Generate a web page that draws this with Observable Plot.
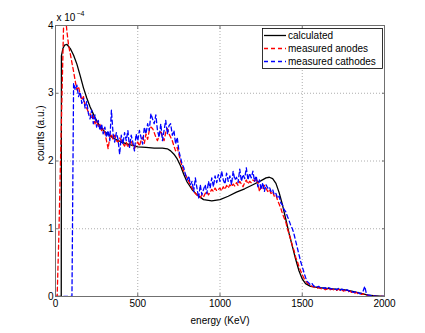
<!DOCTYPE html>
<html>
<head>
<meta charset="utf-8">
<script src="https://cdn.jsdelivr.net/npm/d3@7"></script>
<script src="https://cdn.jsdelivr.net/npm/@observablehq/plot@0.6"></script>
<style>
  html, body { margin: 0; padding: 0; background: #fff; }
</style>
</head>
<body>
<div id="chart"></div>
<script>
// ---- data (counts in units of 1e-4) ----
const seriesNames = ["calculated", "measured anodes", "measured cathodes"];
const seriesColors = ["#000000", "#ff0000", "#0000ff"];

const calcEnergy = [0, 35, 36, 45, 55, 70, 90, 110, 130, 150, 170, 190, 210, 240, 270, 300, 350, 400, 450, 500, 550, 600, 650, 680, 700, 720, 740, 760, 780, 800, 830, 860, 900, 950, 1000, 1050, 1100, 1150, 1200, 1250, 1280, 1300, 1320, 1340, 1360, 1380, 1400, 1420, 1440, 1460, 1480, 1500, 1520, 1550, 1600, 1700, 1750, 1800, 1850, 1900, 1950, 2000];
const calcCounts = [0, 0, 3.55, 3.66, 3.71, 3.72, 3.66, 3.56, 3.43, 3.26, 3.08, 2.93, 2.80, 2.64, 2.51, 2.43, 2.34, 2.28, 2.24, 2.21, 2.20, 2.19, 2.19, 2.18, 2.15, 2.10, 2.03, 1.93, 1.80, 1.69, 1.58, 1.50, 1.43, 1.41, 1.43, 1.48, 1.54, 1.59, 1.65, 1.71, 1.75, 1.76, 1.74, 1.67, 1.53, 1.35, 1.14, 0.93, 0.74, 0.55, 0.38, 0.26, 0.19, 0.15, 0.13, 0.11, 0.10, 0.08, 0.05, 0.02, 0.01, 0];

// measured anodes, sampled every 10 keV from 0 to 2000
const anodeEnergy = d3.range(0, 2001, 10);
const anodeCounts = [
  0, 0, 0.86, 1.95, 3.03, 4.1, 4.15, 3.9, 3.7, 3.58,
  3.45, 3.32, 3.18, 3.05, 3.1, 2.98, 2.9, 2.95, 2.82, 2.78,
  2.72, 2.7, 2.62, 2.66, 2.55, 2.6, 2.5, 2.54, 2.45, 2.48,
  2.42, 2.3, 2.18, 2.35, 2.4, 2.32, 2.38, 2.3, 2.28, 2.34,
  2.3, 2.26, 2.22, 2.28, 2.2, 2.25, 2.3, 2.22, 2.18, 2.24,
  2.28, 2.22, 2.3, 2.35, 2.26, 2.4, 2.32, 2.45, 2.5, 2.48,
  2.42, 2.35, 2.3, 2.38, 2.45, 2.36, 2.3, 2.42, 2.48, 2.4,
  2.35, 2.3, 2.22, 2.15, 2.2, 2.1, 2.0, 1.92, 1.85, 1.8,
  1.75, 1.7, 1.64, 1.6, 1.56, 1.52, 1.5, 1.48, 1.46, 1.5,
  1.47, 1.52, 1.55, 1.5, 1.54, 1.58, 1.55, 1.6, 1.56, 1.58,
  1.6, 1.56, 1.62, 1.58, 1.64, 1.6, 1.65, 1.62, 1.66, 1.63,
  1.68, 1.64, 1.7, 1.66, 1.62, 1.68, 1.72, 1.66, 1.7, 1.68,
  1.72, 1.7, 1.74, 1.68, 1.55, 1.62, 1.58, 1.64, 1.6, 1.55,
  1.58, 1.52, 1.55, 1.48, 1.5, 1.42, 1.36, 1.3, 1.22, 1.16,
  1.1, 1.0, 0.92, 0.84, 0.75, 0.68, 0.58, 0.52, 0.44, 0.38,
  0.32, 0.27, 0.23, 0.2, 0.18, 0.16, 0.15, 0.14, 0.13, 0.12,
  0.13, 0.12, 0.11, 0.12, 0.1, 0.11, 0.12, 0.1, 0.11, 0.1,
  0.1, 0.09, 0.11, 0.09, 0.1, 0.08, 0.09, 0.08, 0.07, 0.08,
  0.06, 0.07, 0.05, 0.06, 0.04, 0.05, 0.03, 0.04, 0.03, 0.02,
  0.02, 0.01, 0.01, 0.01, 0, 0, 0, 0, 0, 0,
  0
];

// measured cathodes, sampled every 10 keV from 50 to 2000
const cathodeEnergy = d3.range(50, 2001, 10);
const cathodeCounts = [
  0, 0, 0, 0, 0,
  0, 3.15, 3.05, 3.12, 2.95, 3.02, 2.85, 2.92, 2.78, 2.88,
  2.7, 2.62, 2.75, 2.55, 2.68, 2.5, 2.6, 2.45, 2.55, 2.4,
  2.5, 2.35, 2.45, 2.3, 2.75, 2.4, 2.28, 2.42, 2.32, 2.1,
  2.38, 2.25, 2.42, 2.3, 2.45, 2.2, 2.38, 2.28, 2.15, 2.4,
  2.3, 2.45, 2.35, 2.25, 2.5, 2.4, 2.55, 2.45, 2.7, 2.62,
  2.55, 2.68, 2.45, 2.35, 2.55, 2.3, 2.45, 2.6, 2.4, 2.52,
  2.55, 2.38, 2.45, 2.25, 2.35, 2.15, 2.05, 1.95, 1.9, 1.8,
  1.72, 1.78, 1.65, 1.7, 1.55, 1.75, 1.6, 1.45, 1.65, 1.5,
  1.58, 1.65, 1.52, 1.7, 1.6, 1.75, 1.62, 1.78, 1.68, 1.8,
  1.7, 1.85, 1.72, 1.66, 1.82, 1.7, 1.78, 1.65, 1.85, 1.72,
  1.76, 1.68, 1.88, 1.7, 1.8, 1.74, 1.9, 1.72, 1.82, 1.75,
  1.85, 1.7, 1.78, 1.62, 1.72, 1.58, 1.68, 1.55, 1.65, 1.6,
  1.62, 1.55, 1.58, 1.5, 1.52, 1.45, 1.48, 1.38, 1.35, 1.28,
  1.25, 1.18, 1.12, 1.05, 1.0, 0.92, 0.82, 0.72, 0.62, 0.52,
  0.44, 0.36, 0.28, 0.22, 0.2, 0.17, 0.19, 0.15, 0.16, 0.14,
  0.15, 0.13, 0.14, 0.12, 0.13, 0.11, 0.13, 0.12, 0.11, 0.12,
  0.11, 0.1, 0.12, 0.09, 0.11, 0.1, 0.08, 0.1, 0.09, 0.07,
  0.08, 0.06, 0.07, 0.05, 0.06, 0.04, 0.05, 0.08, 0.15, 0.04,
  0.02, 0.02, 0.01, 0.01, 0.01, 0, 0, 0, 0, 0,
  0
];

const xTicks = [0, 500, 1000, 1500, 2000];
const yTicks = [0, 1, 2, 3, 4];
const xLabel = "energy (KeV)";
const yLabel = "counts (a.u.)";
const yMultiplier = "x 10";
const yExponent = "\u22124";

// ---- tidy tables ----
const calc = calcEnergy.map((e, i) => ({e, c: calcCounts[i]}));
const anodes = anodeEnergy.map((e, i) => ({e, c: anodeCounts[i]}));
const cathodes = cathodeEnergy.map((e, i) => ({e, c: cathodeCounts[i]}));

const axisColor = "#707070";
const font = "'Liberation Sans', Arial, Helvetica, sans-serif";
const plain = (d) => String(d);

const chart = Plot.plot({
  width: 425,
  height: 333,
  marginLeft: 55,
  marginRight: 41,
  marginTop: 25,
  marginBottom: 37,
  style: {fontFamily: font, fontSize: "10px", background: "#fff", color: "#000", overflow: "visible"},
  x: {domain: [0, 2000]},
  y: {domain: [0, 4]},
  marks: [
    Plot.gridX(xTicks.slice(1, -1), {stroke: "#999", strokeOpacity: 1, strokeDasharray: "1,2", strokeWidth: 0.8}),
    Plot.gridY(yTicks.slice(1, -1), {stroke: "#999", strokeOpacity: 1, strokeDasharray: "1,2", strokeWidth: 0.8}),
    Plot.line(calc, {x: "e", y: "c", stroke: seriesColors[0], strokeWidth: 1.3, clip: true}),
    Plot.line(anodes, {x: "e", y: "c", stroke: seriesColors[1], strokeWidth: 1.3, strokeDasharray: "4,3", clip: true}),
    Plot.line(cathodes, {x: "e", y: "c", stroke: seriesColors[2], strokeWidth: 1.3, strokeDasharray: "4,3", clip: true}),
    Plot.frame({stroke: axisColor, strokeWidth: 1}),
    Plot.axisX({ticks: xTicks, tickSize: -3, tickPadding: 6, stroke: axisColor, label: null, fontSize: 10, tickFormat: plain}),
    Plot.axisX({ticks: xTicks, anchor: "top", tickSize: -3, stroke: axisColor, tickFormat: () => "", label: null}),
    Plot.axisY({ticks: yTicks, tickSize: -3, tickPadding: 5, stroke: axisColor, label: null, fontSize: 10, tickFormat: plain}),
    Plot.axisY({ticks: yTicks, anchor: "right", tickSize: -3, stroke: axisColor, tickFormat: () => "", label: null}),
    Plot.text([xLabel], {frameAnchor: "bottom", dy: 24, fontSize: 10, lineAnchor: "middle"}),
    Plot.text([yLabel], {frameAnchor: "left", dx: -15, rotate: -90, fontSize: 10, lineAnchor: "middle"}),
    Plot.text([yMultiplier], {frameAnchor: "top-left", dx: 1, dy: -8, textAnchor: "start", lineAnchor: "middle", fontSize: 10}),
    Plot.text([yExponent], {frameAnchor: "top-left", dx: 21, dy: -12, textAnchor: "start", lineAnchor: "middle", fontSize: 7})
  ]
});

// ---- legend (inside the axes, top right) ----
const svg = d3.select(chart);
const lg = svg.append("g").attr("font-family", font).attr("font-size", 10).attr("text-anchor", "start");
lg.append("rect").attr("x", 262.5).attr("y", 28.5).attr("width", 120).attr("height", 40)
  .attr("fill", "#fff").attr("stroke", "#000").attr("stroke-width", 0.8);
seriesNames.forEach((name, i) => {
  const yy = 35.5 + i * 13;
  lg.append("line").attr("x1", 264).attr("x2", 286).attr("y1", yy).attr("y2", yy)
    .attr("stroke", seriesColors[i]).attr("stroke-width", 1.3)
    .attr("stroke-dasharray", i === 0 ? null : "4,3");
  lg.append("text").attr("x", 288).attr("y", yy).attr("dy", "0.35em")
    .attr("text-anchor", "start").attr("fill", "#000").text(name);
});

document.getElementById("chart").appendChild(chart);
</script>
</body>
</html>
